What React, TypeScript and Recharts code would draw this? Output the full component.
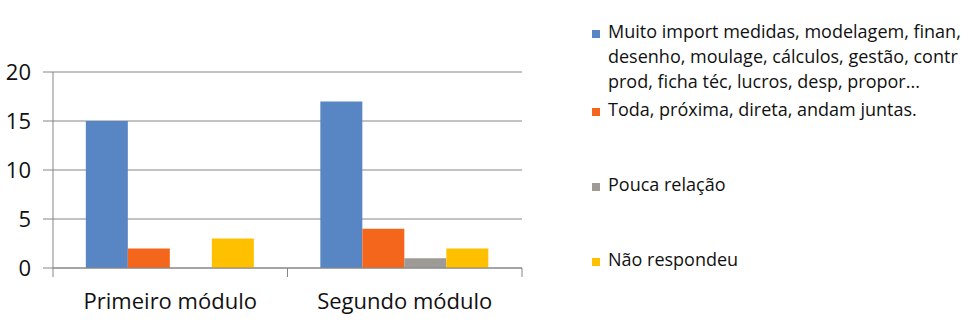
import React from 'react';
import { BarChart, Bar, XAxis, YAxis, CartesianGrid } from 'recharts';

const categories = ['Primeiro módulo', 'Segundo módulo'];
const muitoImport = [15, 17];
const toda = [2, 4];
const pouca = [0, 1];
const naoRespondeu = [3, 2];
const yTicks = [0, 5, 10, 15, 20];

const series = [
  {
    key: 'muito',
    lines: [
      'Muito import medidas, modelagem, finan,',
      'desenho, moulage, cálculos, gestão, contr',
      'prod, ficha téc, lucros, desp, propor...',
    ],
    values: muitoImport,
    color: '#5886C4',
  },
  { key: 'toda', lines: ['Toda, próxima, direta, andam juntas.'], values: toda, color: '#F4661B' },
  { key: 'pouca', lines: ['Pouca relação'], values: pouca, color: '#9E9A95' },
  { key: 'nao', lines: ['Não respondeu'], values: naoRespondeu, color: '#FFC000' },
];

const data = categories.map((category, i) => {
  const row: Record<string, string | number> = { category };
  series.forEach((s) => {
    row[s.key] = s.values[i];
  });
  return row;
});

const AXIS = '#868686';
const FONT = '"Open Sans", sans-serif';
const legendTops = [19, 97, 172, 247];

const CategoryTick = (props: any) => {
  const { x, y, payload, index, visibleTicksCount } = props;
  const half = payload.offset || 0;
  const top = y - 25;
  return (
    <g>
      <line x1={x - half} x2={x - half} y1={top} y2={top + 9} stroke={AXIS} strokeWidth={1} />
      {index === visibleTicksCount - 1 && (
        <line x1={x + half} x2={x + half} y1={top} y2={top + 9} stroke={AXIS} strokeWidth={1} />
      )}
      <text x={x} y={y} dy="0.71em" textAnchor="middle" fill="#111" fontSize={22} fontFamily={FONT}>
        {payload.value}
      </text>
    </g>
  );
};

export default function App() {
  return (
    <div style={{ position: 'absolute', left: 0, top: 0, width: 980, height: 335, background: '#fff', overflow: 'hidden' }}>
      <BarChart
        width={980}
        height={335}
        data={data}
        margin={{ top: 72, right: 458, bottom: 0, left: 0 }}
        barCategoryGap="14%"
        barGap={0}
        style={{ fontFamily: FONT }}
      >
        <CartesianGrid horizontal vertical={false} stroke={AXIS} strokeWidth={1} />
        <XAxis
          dataKey="category"
          height={67}
          tickLine={false}
          axisLine={{ stroke: AXIS, strokeWidth: 1 }}
          tick={<CategoryTick />}
          tickSize={9}
          tickMargin={16}
          interval={0}
        />
        <YAxis
          width={53}
          domain={[0, 20]}
          ticks={yTicks}
          interval={0}
          tickSize={10}
          tickMargin={12}
          tickLine={{ stroke: AXIS, strokeWidth: 1 }}
          axisLine={{ stroke: AXIS, strokeWidth: 1 }}
          tick={{ fill: '#111', fontSize: 22, fontFamily: FONT }}
        />
        {series.map((s) => (
          <Bar key={s.key} dataKey={s.key} fill={s.color} isAnimationActive={false} />
        ))}
      </BarChart>
      {series.map((s, i) => (
        <div
          key={s.key}
          style={{
            position: 'absolute',
            left: 592,
            top: legendTops[i],
            fontFamily: FONT,
            fontSize: 18,
            lineHeight: '25px',
            color: '#111',
            whiteSpace: 'nowrap',
          }}
        >
          <span
            style={{
              position: 'absolute',
              left: 0,
              top: 11,
              width: 8,
              height: 8,
              background: s.color,
            }}
          />
          <div style={{ marginLeft: 16 }}>
            {s.lines.map((l, j) => (
              <div key={j}>{l}</div>
            ))}
          </div>
        </div>
      ))}
    </div>
  );
}
